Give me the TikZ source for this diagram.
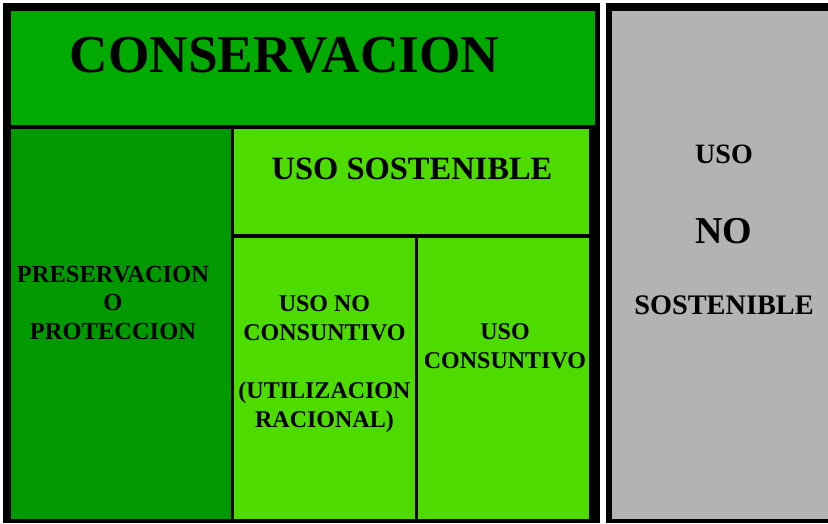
\documentclass[tikz,border=0pt]{standalone}
\usepackage{fontspec}
\setmainfont{Liberation Serif}
\usepackage{xcolor}
\definecolor{consgreen}{HTML}{00AA00}
\definecolor{presgreen}{HTML}{009A00}
\definecolor{usogreen}{HTML}{4EDB00}
\definecolor{nogray}{HTML}{B3B3B3}

\begin{document}
\begin{tikzpicture}[x=1pt,y=-1pt]
\tikzset{label/.style={inner sep=0pt,align=center,font=\bfseries\fontsize{24}{29}\selectfont}}
\useasboundingbox (0,0) rectangle (828,523);
\fill[white] (0,0) rectangle (828,523);
% left block
\fill[black] (3,3) rectangle (600,523);
\fill[consgreen] (11,11) rectangle (595,125);
\fill[presgreen] (11,129) rectangle (231,519);
\fill[usogreen] (234,129) rectangle (589,234);
\fill[usogreen] (234,238) rectangle (415,519);
\fill[usogreen] (418,238) rectangle (589,519);
% right block
\fill[black] (606,3) rectangle (828,523);
\fill[nogray] (612,11) rectangle (828,519);
% texts
\node[label,font=\bfseries\fontsize{53.3}{60}\selectfont](cons) at (284.5,55) {CONSERVACION};
\node[label,font=\bfseries\fontsize{32.5}{38}\selectfont](sost) at (412,168.5) {USO SOSTENIBLE};
\node[label,anchor=north,font=\bfseries\fontsize{24.5}{28.5}\selectfont](pres) at (113,266) {PRESERVACION\\O\\PROTECCION};
\node[label,anchor=north](nocons) at (324.5,295) {USO NO\\CONSUNTIVO\\[29pt](UTILIZACION\\RACIONAL)};
\node[label,anchor=north](usocons) at (505,323.5) {USO\\CONSUNTIVO};
\node[label,anchor=base,font=\bfseries\fontsize{28}{32}\selectfont](nouso) at (724,163) {USO};
\node[label,anchor=base,font=\bfseries\fontsize{38}{44}\selectfont](nono) at (724,243) {NO};
\node[label,anchor=base,font=\bfseries\fontsize{28.3}{32}\selectfont](nosost) at (724,314) {SOSTENIBLE};
\end{tikzpicture}
\end{document}
